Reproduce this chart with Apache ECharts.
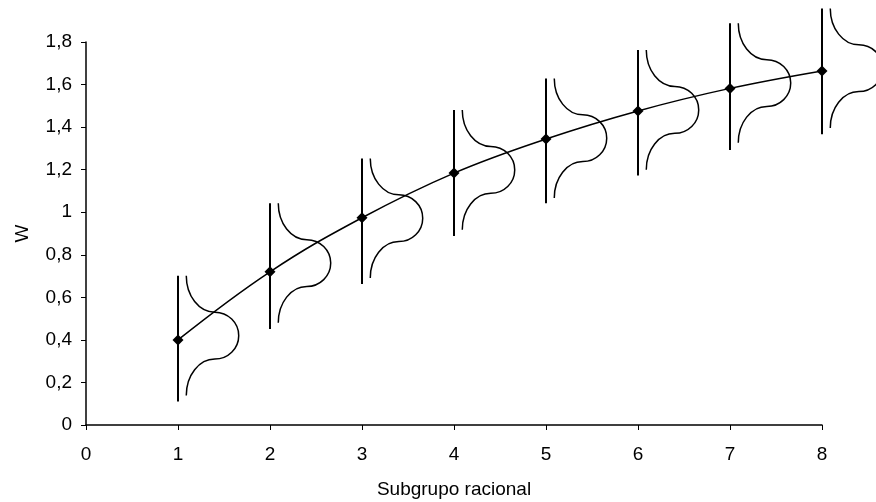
<!DOCTYPE html>
<html>
<head>
<meta charset="utf-8">
<script src="https://cdn.jsdelivr.net/npm/echarts@6/dist/echarts.min.js"></script>
<style>
html,body{margin:0;padding:0;background:#fff;}
#chart{width:876px;height:502px;}
</style>
</head>
<body>
<div id="chart"></div>
<script>
// ---- data ----
const subgroups = [1, 2, 3, 4, 5, 6, 7, 8];
const means = [0.40, 0.72, 0.974, 1.184, 1.344, 1.476, 1.582, 1.664];
const highs = [0.701, 1.042, 1.253, 1.480, 1.629, 1.762, 1.888, 1.958];
const lows  = [0.111, 0.451, 0.663, 0.888, 1.042, 1.172, 1.292, 1.367];
const xTickLabels = ['0', '1', '2', '3', '4', '5', '6', '7', '8'];
const yTickLabels = ['0', '0,2', '0,4', '0,6', '0,8', '1', '1,2', '1,4', '1,6', '1,8'];

const FONT = 'Liberation Sans, Arial, sans-serif';
const chart = echarts.init(document.getElementById('chart'), null, {renderer: 'canvas'});

const rangeData = subgroups.map((x, i) => [x, lows[i], highs[i]]);
const meanData = subgroups.map((x, i) => [x, means[i]]);

// bell shape geometry (style constants, in axis units relative to each subgroup)
const BELL = {base: 0.09, shoulder: 0.40, peak: 0.66, sh1: 0.171, pk: 0.281, sh2: 0.391, bottom: 0.562};
const K = 0.5523;

function renderRange(params, api) {
  const x = api.value(0), lo = api.value(1), hi = api.value(2);
  const a = api.coord([x, hi]);
  const b = api.coord([x, lo]);
  const bx = api.coord([x + BELL.base, hi])[0];
  const sx = api.coord([x + BELL.shoulder, hi])[0];
  const px = api.coord([x + BELL.peak, hi])[0];
  const ty = a[1];
  const s1 = api.coord([x, hi - BELL.sh1])[1];
  const py = api.coord([x, hi - BELL.pk])[1];
  const s2 = api.coord([x, hi - BELL.sh2])[1];
  const by = api.coord([x, hi - BELL.bottom])[1];
  const rx = sx - bx, ry1 = s1 - ty, ry3 = by - s2;
  const rx2 = px - sx, ryA = py - s1, ryB = s2 - py;
  const d = [
    'M', bx, ty,
    'C', bx, ty + K * ry1, sx - K * rx, s1, sx, s1,
    'C', sx + K * rx2, s1, px, py - K * ryA, px, py,
    'C', px, py + K * ryB, sx + K * rx2, s2, sx, s2,
    'C', sx - K * rx, s2, bx, by - K * ry3, bx, by
  ].join(' ');
  return {
    type: 'group',
    children: [
      {type: 'line', shape: {x1: a[0], y1: a[1], x2: b[0], y2: b[1]},
       style: {stroke: '#000', lineWidth: 2}},
      {type: 'path', shape: {pathData: d},
       style: {fill: 'none', stroke: '#000', lineWidth: 1.5}}
    ]
  };
}

const option = {
  animation: false,
  backgroundColor: '#fff',
  grid: {left: 86, right: 54, top: 42, bottom: 77, containLabel: false, outerBoundsMode: 'none'},
  xAxis: {
    type: 'value', min: 0, max: 8, interval: 1,
    name: 'Subgrupo racional', nameLocation: 'middle', nameGap: 55,
    nameTextStyle: {fontFamily: FONT, fontSize: 19, color: '#000'},
    axisLine: {show: true, onZero: false, lineStyle: {color: '#000', width: 1.5}},
    axisTick: {show: true, length: 5, lineStyle: {color: '#000', width: 1}},
    axisLabel: {fontFamily: FONT, fontSize: 19, color: '#000', margin: 20,
      formatter: v => xTickLabels[Math.round(v)]},
    splitLine: {show: false}
  },
  yAxis: {
    type: 'value', min: 0, max: 1.8, interval: 0.2,
    name: 'W', nameLocation: 'middle', nameGap: 54,
    nameTextStyle: {fontFamily: FONT, fontSize: 19, color: '#000'},
    axisLine: {show: true, lineStyle: {color: '#000', width: 1.5}},
    axisTick: {show: true, length: 5, lineStyle: {color: '#000', width: 1}},
    axisLabel: {fontFamily: FONT, fontSize: 19, color: '#000', margin: 14,
      formatter: v => yTickLabels[Math.round(v / 0.2)]},
    splitLine: {show: false}
  },
  series: [
    {
      type: 'custom', name: 'range', data: rangeData,
      renderItem: renderRange, clip: false,
      encode: {x: 0, y: [1, 2]}, z: 2
    },
    {
      type: 'line', name: 'W', data: meanData, smooth: 0.4,
      symbol: 'diamond', symbolSize: 11, showSymbol: true,
      lineStyle: {color: '#000', width: 1.5},
      itemStyle: {color: '#000'}, z: 3
    }
  ]
};
chart.setOption(option);
</script>
</body>
</html>
